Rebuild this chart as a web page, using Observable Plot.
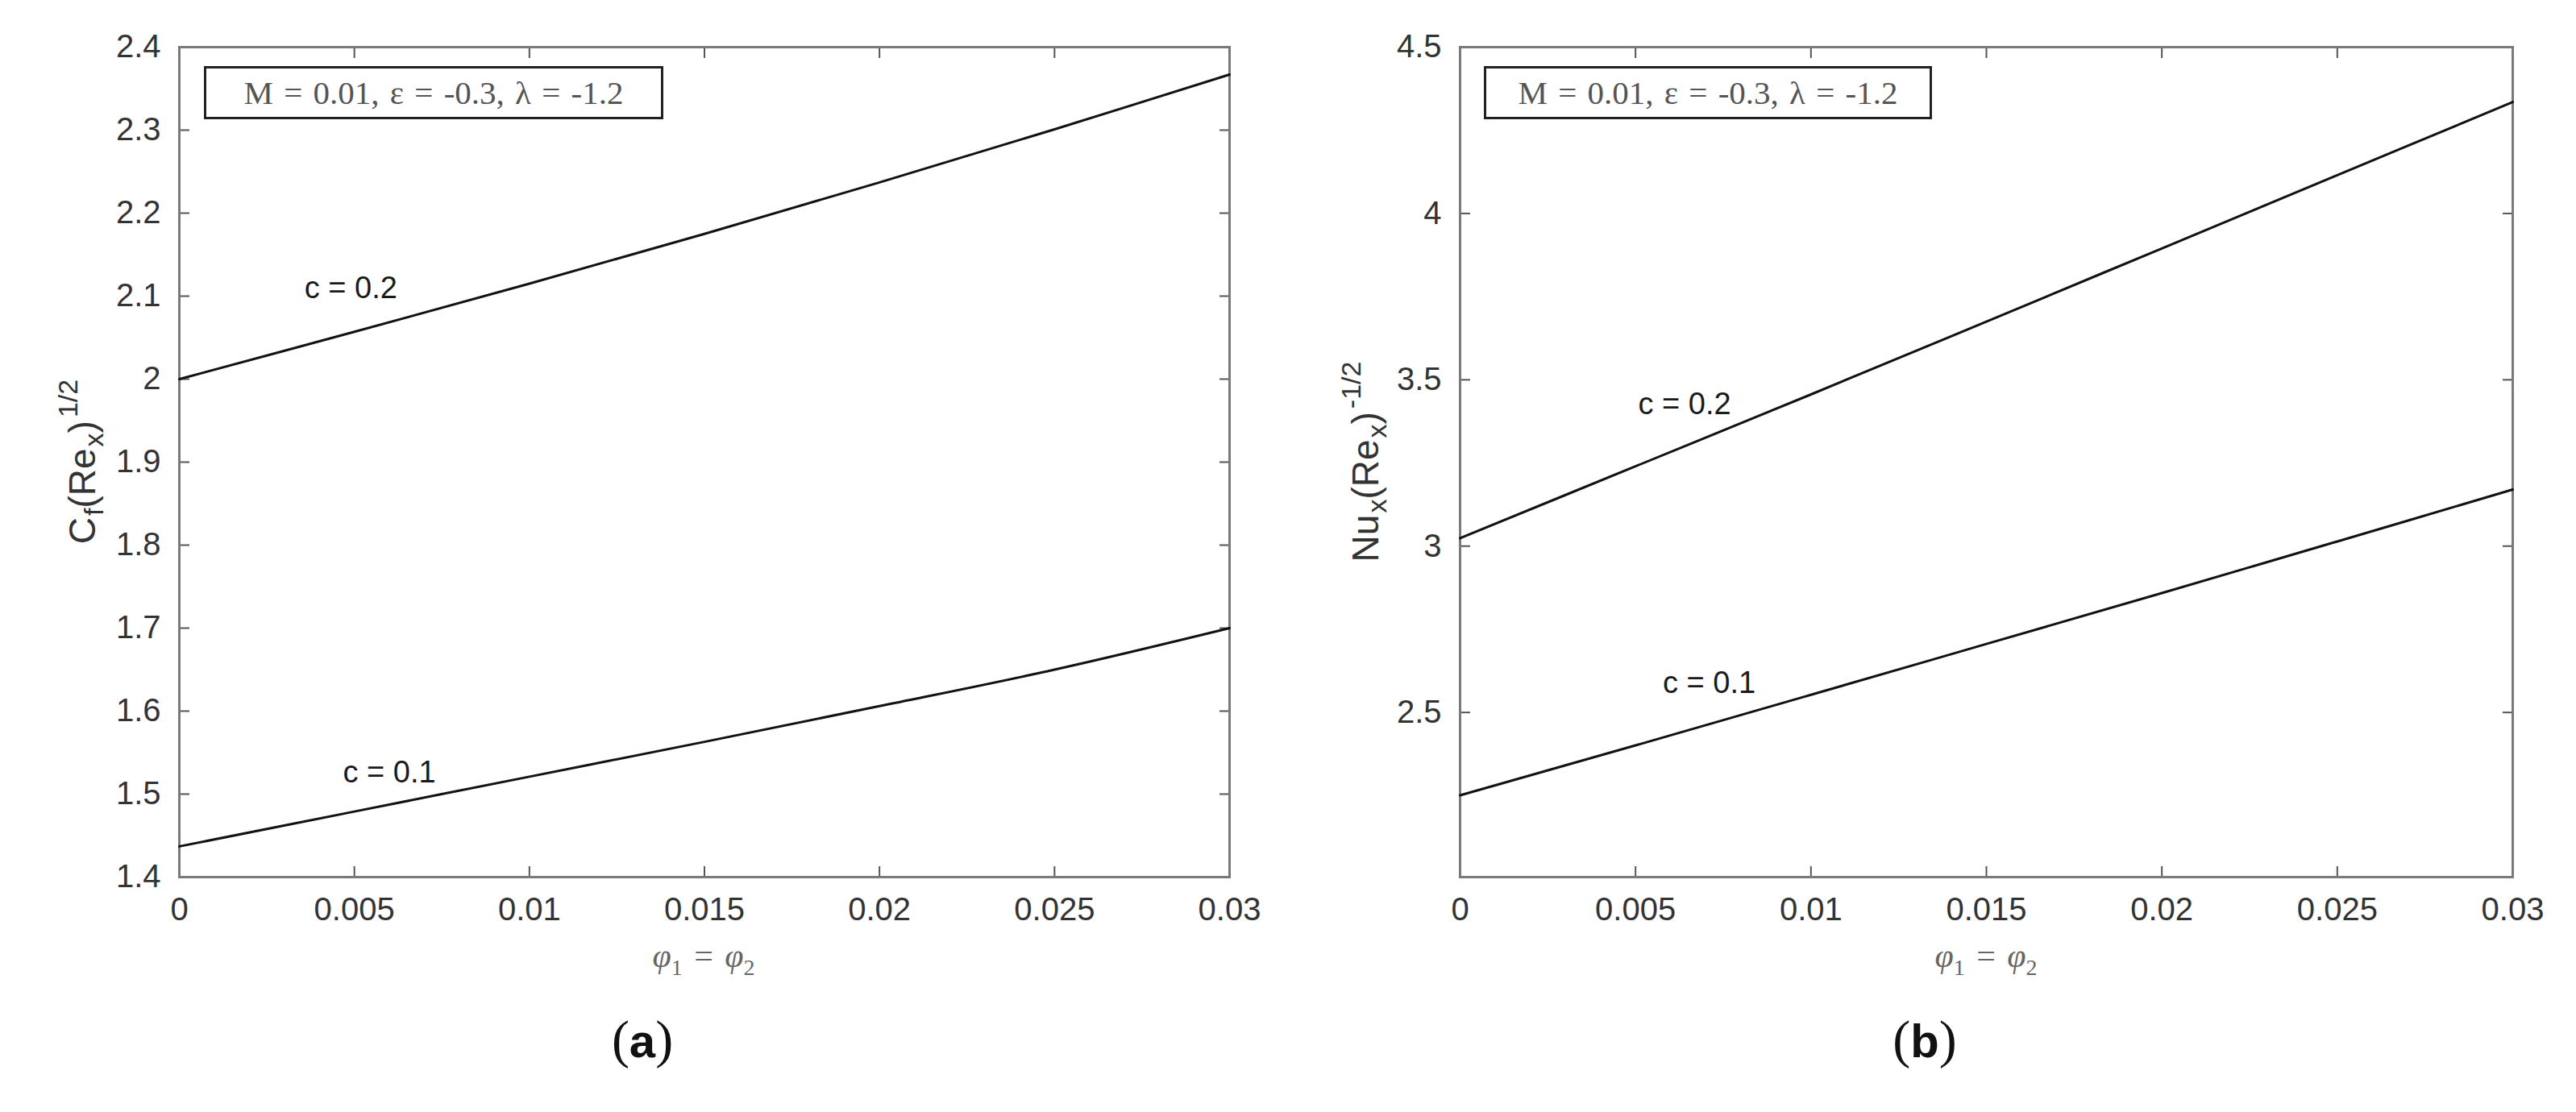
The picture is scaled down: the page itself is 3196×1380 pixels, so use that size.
<!DOCTYPE html>
<html>
<head>
<meta charset="utf-8">
<script src="https://cdn.jsdelivr.net/npm/d3@7"></script>
<script src="https://cdn.jsdelivr.net/npm/@observablehq/plot@0.6"></script>
<style>
  html, body { margin: 0; padding: 0; background: #fff; }
  #root { position: relative; width: 3196px; height: 1380px; background: #fff; overflow: hidden; }
  .panel { position: absolute; top: 0; }
  .ylab { position: absolute; white-space: nowrap; font-family: "Liberation Sans", Arial, sans-serif; font-size: 46px; color: #333; transform: translate(-50%, -50%) rotate(-90deg); line-height: 1; }
  .ylab sub { font-size: 34px; vertical-align: -10px; margin-left: 2px; }
  .ylab sup { font-size: 34px; vertical-align: 22px; margin-left: 4px; }
  .xlab { position: absolute; white-space: nowrap; font-family: "Liberation Serif", "DejaVu Serif", serif; font-size: 42px; color: #666; transform: translate(-50%, -50%); line-height: 1; word-spacing: 4px; }
  .xlab sub { font-size: 28px; font-style: normal; }
  .param { position: absolute; box-sizing: border-box; border: 3px solid #222; background: #fff; font-family: "Liberation Serif", "DejaVu Serif", serif; font-size: 41px; color: #555; display: flex; align-items: center; justify-content: center; white-space: nowrap; word-spacing: 3px; }
  .cap { position: absolute; white-space: nowrap; font-family: "Liberation Serif", "DejaVu Serif", serif; font-size: 66px; color: #111; transform: translate(-50%, -50%); line-height: 1; }
  .cap b { font-family: "Liberation Sans", Arial, sans-serif; font-weight: bold; font-size: 58px; }
</style>
</head>
<body>
<div id="root"></div>
<script>
// ---- data ----
const phi = [0, 0.005, 0.01, 0.015, 0.02, 0.025, 0.03];
const cfC01 = [1.437, 1.479, 1.521, 1.563, 1.606, 1.650, 1.700];
const cfC02 = [2.000, 2.057, 2.115, 2.175, 2.237, 2.301, 2.367];
const nuC01 = [2.251, 2.401, 2.553, 2.706, 2.859, 3.014, 3.170];
const nuC02 = [3.024, 3.240, 3.456, 3.675, 3.895, 4.115, 4.335];
const xTicks = [0, 0.005, 0.01, 0.015, 0.02, 0.025, 0.03];
const yTicksA = [1.4, 1.5, 1.6, 1.7, 1.8, 1.9, 2.0, 2.1, 2.2, 2.3, 2.4];
const yTicksB = [2.5, 3, 3.5, 4, 4.5];
const seriesNames = ["c = 0.1", "c = 0.2"];
const labelsA = [{x: 0.0060, y: 1.526, t: "c = 0.1"}, {x: 0.0049, y: 2.109, t: "c = 0.2"}];
const labelsB = [{x: 0.0071, y: 2.588, t: "c = 0.1"}, {x: 0.0064, y: 3.427, t: "c = 0.2"}];
const paramText = "M = 0.01, ε = -0.3, λ = -1.2";

function rows(ys, name) { return phi.map((p, i) => ({phi: p, v: ys[i], c: name})); }

const FRAME = "#7a7a7a";
const TXT = "#333";

function panel({data, yDomain, yTicks, labels, marginLeft, marginRight}) {
  const tickOpts = {tickSize: -13, stroke: "#555", strokeWidth: 2};
  return Plot.plot({
    width: 1598,
    height: 1240,
    marginLeft, marginRight,
    marginTop: 58,
    marginBottom: 152,
    x: {domain: [0, 0.03]},
    y: {domain: yDomain},
    style: {fontFamily: "'Liberation Sans', Arial, sans-serif", fontSize: "40px", color: TXT, background: "transparent", overflow: "visible"},
    marks: [
      Plot.axisX({...tickOpts, ticks: xTicks, tickFormat: d => String(d), tickPadding: 38, label: null, anchor: "bottom"}),
      Plot.axisX({...tickOpts, ticks: xTicks, tickFormat: () => "", label: null, anchor: "top"}),
      Plot.axisY({...tickOpts, ticks: yTicks, tickFormat: d => String(d), tickPadding: 36, label: null, anchor: "left"}),
      Plot.axisY({...tickOpts, ticks: yTicks, tickFormat: () => "", label: null, anchor: "right"}),
      Plot.frame({stroke: FRAME, strokeWidth: 3}),
      Plot.line(data, {x: "phi", y: "v", z: "c", stroke: "#111", strokeWidth: 3, curve: "catmull-rom"}),
      Plot.text(labels, {x: "x", y: "y", text: "t", fontSize: 38, fill: "#1a1a1a"})
    ]
  });
}

const root = document.getElementById("root");

const plotA = panel({
  data: [...rows(cfC01, seriesNames[0]), ...rows(cfC02, seriesNames[1])],
  yDomain: [1.4, 2.4], yTicks: yTicksA, labels: labelsA,
  marginLeft: 222, marginRight: 1598 - 1525
});
const plotB = panel({
  data: [...rows(nuC01, seriesNames[0]), ...rows(nuC02, seriesNames[1])],
  yDomain: [2.005, 4.5], yTicks: yTicksB, labels: labelsB,
  marginLeft: 1811 - 1598, marginRight: 1598 - (3117 - 1598)
});

function place(el, left) {
  const w = document.createElement("div");
  w.className = "panel";
  w.style.left = left + "px";
  w.appendChild(el);
  root.appendChild(w);
}
place(plotA, 0);
place(plotB, 1598);

function addHTML(cls, html, left, top, extra) {
  const d = document.createElement("div");
  d.className = cls;
  d.innerHTML = html;
  d.style.left = left + "px";
  d.style.top = top + "px";
  if (extra) Object.assign(d.style, extra);
  root.appendChild(d);
}

// y-axis labels
addHTML("ylab", "C<sub>f</sub>(Re<sub>x</sub>)<sup>1/2</sup>", 100, 573);
addHTML("ylab", "Nu<sub>x</sub>(Re<sub>x</sub>)<sup>-1/2</sup>", 1692, 573);
// x-axis labels
addHTML("xlab", "<i>φ</i><sub>1</sub> = <i>φ</i><sub>2</sub>", 873, 1190);
addHTML("xlab", "<i>φ</i><sub>1</sub> = <i>φ</i><sub>2</sub>", 2464, 1190);
// parameter boxes
addHTML("param", paramText, 253, 82, {width: "570px", height: "66px"});
addHTML("param", paramText, 1841, 82, {width: "556px", height: "66px"});
// captions
addHTML("cap", "(<b>a</b>)", 797, 1290);
addHTML("cap", "(<b>b</b>)", 2388, 1290);
</script>
</body>
</html>
